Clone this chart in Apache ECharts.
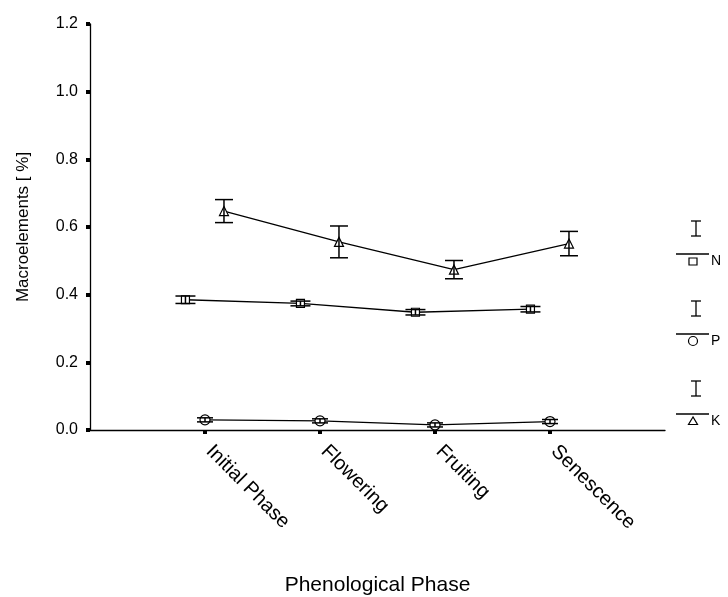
<!DOCTYPE html>
<html>
<head>
<meta charset="utf-8">
<script src="https://cdn.jsdelivr.net/npm/echarts@6/dist/echarts.min.js"></script>
<style>
html,body{margin:0;padding:0;background:#fff;}
#chart{width:728px;height:597px;}
</style>
</head>
<body>
<div id="chart"></div>
<script>
// ---- data ----
const categories = ['Initial Phase', 'Flowering', 'Fruiting', 'Senescence'];
const seriesNames = ['N', 'P', 'K'];
const nMean = [0.385, 0.374, 0.348, 0.357];
const nErr  = [0.011, 0.007, 0.008, 0.008];
const pMean = [0.030, 0.027, 0.015, 0.025];
const pErr  = [0.006, 0.006, 0.006, 0.006];
const kMean = [0.647, 0.556, 0.474, 0.551];
const kErr  = [0.034, 0.047, 0.027, 0.036];
const yTickValues = [0, 0.2, 0.4, 0.6, 0.8, 1.0, 1.2];

// ---- styling / layout ----
const FONT = '"Liberation Sans", Arial, sans-serif';
const offsets = { N: -0.17, P: 0, K: 0.165 };
const symbols = { N: 'rect', P: 'circle', K: 'triangle' };
const symbolSizes = { N: 8, P: 10, K: 9 };
const capHalf = { N: 10, P: 8, K: 9 };

const means = { N: nMean, P: pMean, K: kMean };
const errs = { N: nErr, P: pErr, K: kErr };

const chart = echarts.init(document.getElementById('chart'), null, { renderer: 'canvas' });

const series = [];
seriesNames.forEach(function (name) {
  const pts = categories.map(function (c, i) { return [i + 1 + offsets[name], means[name][i]]; });
  series.push({
    name: name,
    type: 'line',
    data: pts,
    symbol: symbols[name],
    symbolSize: symbolSizes[name],
    lineStyle: { color: '#000', width: 1.3 },
    itemStyle: { color: '#fff', borderColor: '#000', borderWidth: 1.2 },
    z: 2,
    animation: false
  });
  const eb = categories.map(function (c, i) {
    return [i + 1 + offsets[name], means[name][i] - errs[name][i], means[name][i] + errs[name][i]];
  });
  series.push({
    name: name + ' err',
    type: 'custom',
    data: eb,
    z: 3,
    animation: false,
    renderItem: function (params, api) {
      const x = api.value(0);
      const lo = api.coord([x, api.value(1)]);
      const hi = api.coord([x, api.value(2)]);
      const h = capHalf[name];
      const st = { stroke: '#000', lineWidth: 1.5 };
      return {
        type: 'group',
        children: [
          { type: 'line', shape: { x1: lo[0], y1: lo[1], x2: hi[0], y2: hi[1] }, style: st },
          { type: 'line', shape: { x1: lo[0] - h, y1: lo[1], x2: lo[0] + h, y2: lo[1] }, style: st },
          { type: 'line', shape: { x1: hi[0] - h, y1: hi[1], x2: hi[0] + h, y2: hi[1] }, style: st }
        ]
      };
    }
  });
});

// legend drawn as graphics (right side)
const legendBaseY = 261, legendStep = 80;
const legendGraphics = [];
seriesNames.forEach(function (name, k) {
  const my = legendBaseY + k * legendStep;
  const st = { stroke: '#000', lineWidth: 1.3, fill: null };
  legendGraphics.push({ type: 'line', shape: { x1: 696, y1: my - 40, x2: 696, y2: my - 25 }, style: st, silent: true });
  legendGraphics.push({ type: 'line', shape: { x1: 691, y1: my - 40, x2: 701, y2: my - 40 }, style: st, silent: true });
  legendGraphics.push({ type: 'line', shape: { x1: 691, y1: my - 25, x2: 701, y2: my - 25 }, style: st, silent: true });
  legendGraphics.push({ type: 'line', shape: { x1: 676, y1: my - 7, x2: 709, y2: my - 7 }, style: st, silent: true });
  const ms = { stroke: '#000', lineWidth: 1.2, fill: '#fff' };
  if (symbols[name] === 'rect') {
    legendGraphics.push({ type: 'rect', shape: { x: 689, y: my - 3, width: 8, height: 7 }, style: ms, silent: true });
  } else if (symbols[name] === 'circle') {
    legendGraphics.push({ type: 'circle', shape: { cx: 693, cy: my, r: 4.5 }, style: ms, silent: true });
  } else {
    legendGraphics.push({ type: 'polygon', shape: { points: [[693, my - 4], [688.5, my + 3.5], [697.5, my + 3.5]] }, style: ms, silent: true });
  }
  legendGraphics.push({ type: 'text', x: 711, y: my, style: { text: name, font: '14px ' + FONT, fill: '#000', textVerticalAlign: 'middle', textAlign: 'left' }, silent: true });
});

chart.setOption({
  backgroundColor: '#fff',
  animation: false,
  grid: { left: 90, right: 63, top: 24, bottom: 167, containLabel: false, outerBoundsMode: 'none' },
  xAxis: {
    type: 'value',
    min: 0,
    max: 5,
    interval: 1,
    name: 'Phenological Phase',
    nameLocation: 'middle',
    nameGap: 145,
    nameTextStyle: { fontFamily: FONT, fontSize: 21, color: '#000' },
    axisLine: { show: true, onZero: false, lineStyle: { color: '#000', width: 1.3 } },
    axisTick: { show: true, customValues: [1, 2, 3, 4], length: 4, lineStyle: { color: '#000', width: 4 } },
    axisLabel: {
      show: true,
      customValues: [1, 2, 3, 4],
      formatter: function (v) { return categories[Math.round(v) - 1] || ''; },
      rotate: -45,
      margin: 14,
      padding: [0, 0, 0, 6],
      fontFamily: FONT,
      fontSize: 20,
      color: '#000'
    },
    splitLine: { show: false }
  },
  yAxis: {
    type: 'value',
    min: 0,
    max: 1.2,
    interval: 0.2,
    name: 'Macroelements [ %]',
    nameLocation: 'middle',
    nameGap: 58,
    nameRotate: 90,
    nameTextStyle: { fontFamily: FONT, fontSize: 17, color: '#000' },
    axisLine: { show: true, lineStyle: { color: '#000', width: 1.3 } },
    axisTick: { show: true, customValues: yTickValues, length: 4, lineStyle: { color: '#000', width: 4 } },
    axisLabel: {
      customValues: yTickValues,
      formatter: function (v) { return v.toFixed(1); },
      margin: 12,
      fontFamily: FONT,
      fontSize: 16,
      color: '#000'
    },
    splitLine: { show: false }
  },
  series: series,
  graphic: legendGraphics
});
</script>
</body>
</html>
